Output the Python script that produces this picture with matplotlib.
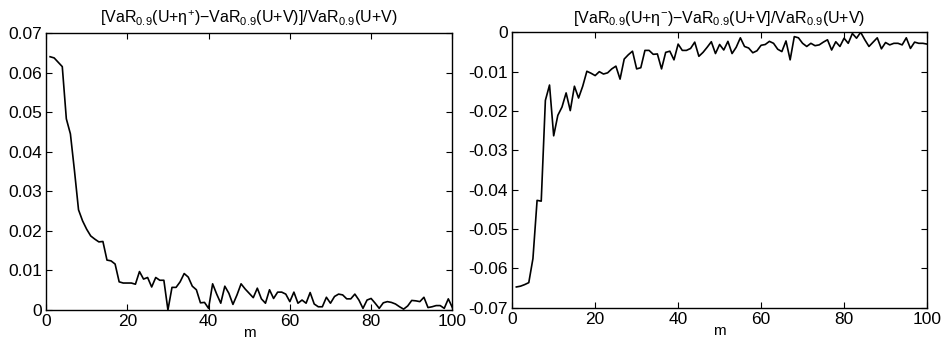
import matplotlib
matplotlib.use("Agg")
import matplotlib.pyplot as plt
import numpy as np

plt.rcParams['font.family'] = ['Liberation Sans', 'DejaVu Sans']
plt.rcParams['mathtext.default'] = 'regular'

m = np.arange(1, 101)

# relative change for eta+ (left panel)
plus_vals = [
    0.0640, 0.0637, 0.0626, 0.0615, 0.0483, 0.0445, 0.0352, 0.0253, 0.0225, 0.0204,
    0.0187, 0.0179, 0.0172, 0.0173, 0.0126, 0.0124, 0.0116, 0.0071, 0.0068, 0.0068,
    0.0068, 0.0065, 0.0097, 0.0078, 0.0082, 0.0058, 0.0082, 0.0075, 0.0075, 0.0000,
    0.0057, 0.0057, 0.0071, 0.0092, 0.0083, 0.0060, 0.0051, 0.0018, 0.0019, 0.0004,
    0.0066, 0.0040, 0.0017, 0.0060, 0.0042, 0.0014, 0.0038, 0.0066, 0.0053, 0.0042,
    0.0031, 0.0055, 0.0028, 0.0017, 0.0051, 0.0029, 0.0045, 0.0045, 0.0040, 0.0021,
    0.0045, 0.0017, 0.0025, 0.0017, 0.0044, 0.0015, 0.0008, 0.0008, 0.0032, 0.0017,
    0.0034, 0.0040, 0.0038, 0.0028, 0.0028, 0.0040, 0.0025, 0.0004, 0.0025, 0.0029,
    0.0017, 0.0004, 0.0018, 0.0021, 0.0019, 0.0015, 0.0008, 0.0002, 0.0010, 0.0024,
    0.0023, 0.0021, 0.0032, 0.0006, 0.0008, 0.0011, 0.0011, 0.0004, 0.0028, 0.0006,
]

# relative change for eta- (right panel)
minus_vals = [
    -0.0647, -0.0645, -0.0641, -0.0636, -0.0575, -0.0427, -0.0429, -0.0173, -0.0134, -0.0263,
    -0.0211, -0.0190, -0.0154, -0.0199, -0.0137, -0.0167, -0.0137, -0.0099, -0.0104, -0.0110,
    -0.0100, -0.0106, -0.0103, -0.0093, -0.0086, -0.0119, -0.0068, -0.0057, -0.0048, -0.0093,
    -0.0090, -0.0046, -0.0046, -0.0056, -0.0055, -0.0093, -0.0051, -0.0048, -0.0070, -0.0030,
    -0.0046, -0.0046, -0.0041, -0.0025, -0.0061, -0.0051, -0.0038, -0.0024, -0.0054, -0.0031,
    -0.0045, -0.0023, -0.0054, -0.0038, -0.0014, -0.0036, -0.0040, -0.0052, -0.0047, -0.0033,
    -0.0031, -0.0023, -0.0028, -0.0043, -0.0049, -0.0022, -0.0070, -0.0011, -0.0014, -0.0028,
    -0.0036, -0.0028, -0.0034, -0.0032, -0.0025, -0.0019, -0.0045, -0.0024, -0.0036, -0.0015,
    -0.0028, -0.0003, -0.0015, 0.0000, -0.0019, -0.0036, -0.0025, -0.0014, -0.0042, -0.0026,
    -0.0032, -0.0028, -0.0028, -0.0032, -0.0014, -0.0041, -0.0025, -0.0028, -0.0028, -0.0030,
]

x_ticks = [0, 20, 40, 60, 80, 100]
plus_ticks = [0, 0.01, 0.02, 0.03, 0.04, 0.05, 0.06, 0.07]
minus_ticks = [-0.07, -0.06, -0.05, -0.04, -0.03, -0.02, -0.01, 0]

title_plus = r'[VaR$_{0.9}$(U+η$^{+}$)−VaR$_{0.9}$(U+V)]/VaR$_{0.9}$(U+V)'
title_minus = r'[VaR$_{0.9}$(U+η$^{−}$)−VaR$_{0.9}$(U+V]/VaR$_{0.9}$(U+V)'

fig = plt.figure(figsize=(9.45, 3.51), dpi=100)
ax1 = fig.add_axes([0.0487, 0.117, 0.430, 0.789])
ax2 = fig.add_axes([0.542, 0.123, 0.439, 0.785])


def style(ax, yticks, ylim, title):
    ax.set_xlim(0, 100)
    ax.set_ylim(*ylim)
    ax.set_xticks(x_ticks)
    ax.set_yticks(yticks)
    ax.set_yticklabels(['%g' % t for t in yticks])
    ax.tick_params(direction='in', top=True, right=True, labelsize=12.5, length=4, width=0.8, pad=3)
    for s in ax.spines.values():
        s.set_linewidth(1.0)
    ax.set_xlabel('m', fontsize=11, labelpad=-2)
    ax.set_title(title, fontsize=11.5, pad=7)


ax1.plot(m, plus_vals, color='black', linewidth=1.2)
style(ax1, plus_ticks, (0, 0.07), title_plus)

ax2.plot(m, minus_vals, color='black', linewidth=1.2)
style(ax2, minus_ticks, (-0.07, 0), title_minus)

fig.savefig('out.png', dpi=100)
